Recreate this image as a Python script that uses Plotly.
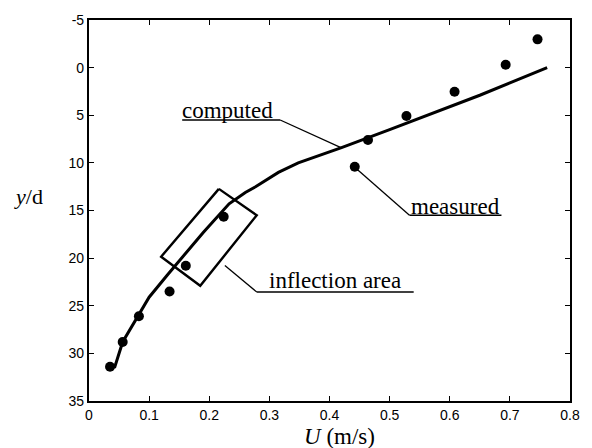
import plotly.graph_objects as go

# Computed profile
U_computed = [0.029, 0.043, 0.056, 0.07, 0.083, 0.10, 0.13, 0.156, 0.19, 0.233, 0.26, 0.277,
              0.315, 0.348, 0.42, 0.50, 0.608, 0.65, 0.70, 0.762]
y_computed = [31.4, 31.4, 28.8, 27.3, 26.0, 24.1, 21.8, 19.8, 17.3, 14.3, 13.1, 12.5,
              11.0, 10.0, 8.4, 6.5, 3.9, 2.9, 1.6, 0.0]

# Measured points
U_measured = [0.035, 0.056, 0.083, 0.134, 0.161, 0.224, 0.442, 0.464, 0.528, 0.608, 0.693, 0.746]
y_measured = [31.4, 28.8, 26.1, 23.5, 20.8, 15.65, 10.4, 7.6, 5.07, 2.53, -0.3, -2.97]

# Ticks
x_ticks = [0, 0.1, 0.2, 0.3, 0.4, 0.5, 0.6, 0.7, 0.8]
x_ticktext = ["0", "0.1", "0.2", "0.3", "0.4", "0.5", "0.6", "0.7", "0.8"]
y_ticks = [-5, 0, 5, 10, 15, 20, 25, 30, 35]
y_ticktext = ["-5", "0", "5", "10", "15", "20", "25", "30", "35"]

# Inflection-area box corners (U, y/d)
box_U = [0.216, 0.279, 0.185, 0.120, 0.216]
box_y = [12.73, 15.5, 22.9, 19.85, 12.73]

# Labels: text, position, underline and leader lines (data units)
labels = ["computed", "measured", "inflection area"]
label_U = [0.231, 0.609, 0.409]
label_y = [4.5, 14.6, 22.4]
underline_U = [(0.155, 0.318), (0.533, 0.686), (0.279, 0.540)]
underline_y = [5.5, 15.5, 23.56]
leader_U = [(0.318, 0.419), (0.442, 0.533), (0.226, 0.279)]
leader_y = [(5.5, 8.4), (10.46, 15.5), (20.77, 23.56)]

fig = go.Figure()
fig.add_trace(go.Scatter(x=U_computed, y=y_computed, mode="lines",
                         line=dict(color="black", width=3), showlegend=False))
fig.add_trace(go.Scatter(x=U_measured, y=y_measured, mode="markers",
                         marker=dict(color="black", size=10), showlegend=False))
fig.add_trace(go.Scatter(x=box_U, y=box_y, mode="lines",
                         line=dict(color="black", width=2.4), showlegend=False))

for (u0, u1), yy in zip(underline_U, underline_y):
    fig.add_shape(type="line", x0=u0, x1=u1, y0=yy, y1=yy, line=dict(color="black", width=1.6))
for (u0, u1), (y0, y1) in zip(leader_U, leader_y):
    fig.add_shape(type="line", x0=u0, x1=u1, y0=y0, y1=y1, line=dict(color="black", width=1.3))
for t, u, yy in zip(labels, label_U, label_y):
    fig.add_annotation(x=u, y=yy, text=t, showarrow=False, xanchor="center", yanchor="middle",
                       font=dict(family="Liberation Serif", size=23, color="black"))

fig.add_annotation(xref="paper", yref="paper", x=-0.126, y=0.536, text="<i>y</i>/d",
                   showarrow=False, xanchor="center", yanchor="middle",
                   font=dict(family="Liberation Serif", size=22, color="black"))
fig.add_annotation(xref="paper", yref="paper", x=0.52, y=-0.093, text="<i>U</i> (m/s)",
                   showarrow=False, xanchor="center", yanchor="middle",
                   font=dict(family="Liberation Serif", size=23, color="black"))

axis_common = dict(showgrid=False, zeroline=False, showline=True, linecolor="black", linewidth=2.2,
                   mirror="ticks", ticks="inside", ticklen=5, tickwidth=1.3, tickcolor="black",
                   tickfont=dict(family="Liberation Sans", size=14, color="black"))
fig.update_xaxes(range=[0, 0.8], tickvals=x_ticks, ticktext=x_ticktext, **axis_common)
fig.update_yaxes(range=[35, -5], tickvals=y_ticks, ticktext=y_ticktext, **axis_common)

fig.update_layout(width=592, height=448, margin=dict(l=89, r=18, t=13, b=47),
                  plot_bgcolor="white", paper_bgcolor="white")
fig.write_html("out.html")
